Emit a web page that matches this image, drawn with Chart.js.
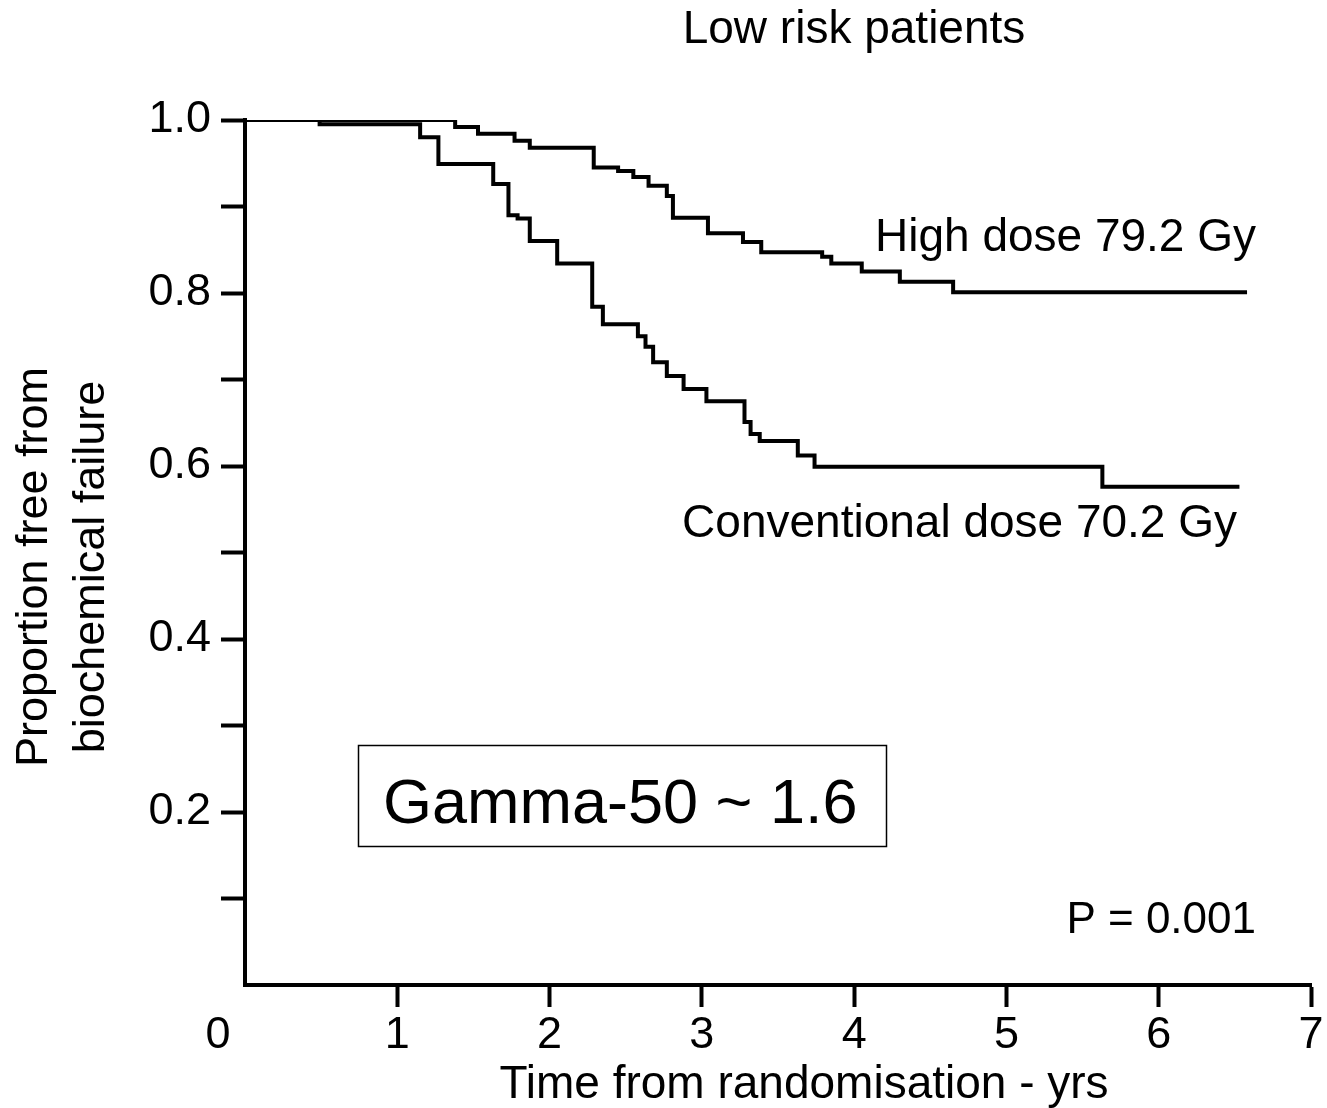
<!DOCTYPE html>
<html>
<head>
<meta charset="utf-8">
<title>Low risk patients</title>
<script src="https://cdn.jsdelivr.net/npm/chart.js@4.4.1/dist/chart.umd.min.js"></script>
<style>
  html, body { margin: 0; padding: 0; background: #fff; }
  canvas { display: block; }
</style>
</head>
<body>
<canvas id="kmChart" width="1327" height="1108"></canvas>
<script>
// Kaplan-Meier steps: time of each drop (years) and the proportion left after it
const highDoseTimes = [0, 1.38, 1.53, 1.77, 1.87, 2.29, 2.45, 2.55, 2.65, 2.77, 2.81, 3.04, 3.27, 3.39, 3.79, 3.85, 4.05, 4.30, 4.65, 6.58];
const highDoseFree  = [1.0, 0.992, 0.984, 0.976, 0.968, 0.945, 0.941, 0.934, 0.924, 0.912, 0.887, 0.869, 0.859, 0.847, 0.842, 0.834, 0.825, 0.813, 0.801, 0.801];

const convDoseTimes = [0, 0.49, 1.15, 1.27, 1.63, 1.73, 1.79, 1.87, 2.05, 2.28, 2.35, 2.58, 2.63, 2.68, 2.77, 2.88, 3.03, 3.28, 3.32, 3.38, 3.63, 3.74, 5.63, 6.53];
const convDoseFree  = [1.0, 0.995, 0.980, 0.949, 0.926, 0.890, 0.886, 0.860, 0.834, 0.784, 0.764, 0.750, 0.738, 0.720, 0.704, 0.689, 0.675, 0.651, 0.637, 0.629, 0.612, 0.599, 0.576, 0.576];

// axis ranges and labelled y values
const xRange = [0, 7];
const yRange = [0, 1];
const yLabelled = [0.2, 0.4, 0.6, 0.8, 1.0];

const FONT = '"Liberation Sans", Arial, Helvetica, sans-serif';
const TICK_LEN = 24;
const X_LABEL_PAD = 2;

Chart.defaults.font.family = FONT;
Chart.defaults.color = '#000';

const toPoints = (ts, vs) => ts.map((t, i) => ({ x: t, y: vs[i] }));

// text that sits on top of the plot: title, curve names, stats box
const annotations = {
  id: 'annotations',
  afterDraw(chart) {
    const { ctx, scales: { x } } = chart;
    ctx.save();
    ctx.fillStyle = '#000';
    ctx.strokeStyle = '#000';
    ctx.font = `46px ${FONT}`;
    ctx.textBaseline = 'alphabetic';

    ctx.textAlign = 'center';
    ctx.fillText('Low risk patients', 854, 43);
    ctx.fillText('Time from randomisation - yrs', 804, 1098);

    ctx.textAlign = 'right';
    ctx.fillText('High dose 79.2 Gy', 1256, 251);
    ctx.fillText('Conventional dose 70.2 Gy', 1237, 537);
    ctx.font = `44px ${FONT}`;
    ctx.fillText('P = 0.001', 1256, 933);

    // origin "0" sits left of the corner
    ctx.font = `45px ${FONT}`;
    ctx.textAlign = 'center';
    ctx.textBaseline = 'middle';
    ctx.fillText('0', x.getPixelForValue(0) - 27, x.top + TICK_LEN - 2 + X_LABEL_PAD + 45 * 1.2 / 2);

    // y axis title, two lines
    ctx.font = `45px ${FONT}`;
    ctx.textAlign = 'center';
    [['Proportion free from', 35], ['biochemical failure', 92]].forEach(([txt, cx]) => {
      ctx.save();
      ctx.translate(cx, 567);
      ctx.rotate(-Math.PI / 2);
      ctx.fillText(txt, 0, 0);
      ctx.restore();
    });

    // gamma box
    ctx.lineWidth = 1.5;
    ctx.strokeRect(358.5, 745.5, 528, 101);
    ctx.textAlign = 'left';
    ctx.textBaseline = 'alphabetic';
    ctx.font = `63px ${FONT}`;
    ctx.fillText('Gamma-50 ~ 1.6', 383, 823);
    ctx.restore();
  }
};

const stepLine = (data) => ({
  data,
  borderColor: '#000',
  borderWidth: 4,
  stepped: true,
  fill: false,
  pointRadius: 0,
  borderJoinStyle: 'miter',
  borderCapStyle: 'butt'
});

const hideAtOrigin = (c) => (c.tick && c.tick.value === 0 ? 'rgba(0,0,0,0)' : '#000');

new Chart(document.getElementById('kmChart'), {
  type: 'line',
  data: {
    datasets: [
      { label: 'High dose 79.2 Gy', ...stepLine(toPoints(highDoseTimes, highDoseFree)) },
      { label: 'Conventional dose 70.2 Gy', ...stepLine(toPoints(convDoseTimes, convDoseFree)) }
    ]
  },
  options: {
    responsive: false,
    animation: false,
    layout: { padding: { top: 120, right: 16, bottom: 0, left: 0 } },
    plugins: { legend: { display: false }, tooltip: { enabled: false } },
    scales: {
      x: {
        type: 'linear',
        min: xRange[0],
        max: xRange[1],
        afterFit: (s) => { s.height = 123; },
        border: { display: true, color: '#000', width: 4 },
        grid: {
          drawOnChartArea: false,
          drawTicks: true,
          tickLength: TICK_LEN - 2,
          tickWidth: 4,
          tickColor: hideAtOrigin
        },
        ticks: {
          stepSize: 1,
          autoSkip: false,
          maxRotation: 0,
          padding: X_LABEL_PAD,
          color: '#000',
          font: { size: 45 },
          callback: (v) => (v === 0 ? '' : String(v))
        }
      },
      y: {
        min: yRange[0],
        max: yRange[1],
        afterFit: (s) => { s.width = 245; },
        border: { display: true, color: '#000', width: 4 },
        grid: {
          drawOnChartArea: false,
          drawTicks: true,
          tickLength: TICK_LEN,
          tickWidth: 4,
          tickColor: hideAtOrigin
        },
        ticks: {
          stepSize: 0.1,
          autoSkip: false,
          padding: 10,
          color: '#000',
          font: { size: 45 },
          callback: (v) => {
            const label = yLabelled.find((l) => Math.abs(l - v) < 1e-6);
            return label === undefined ? '' : label.toFixed(1);
          }
        }
      }
    }
  },
  plugins: [annotations]
});
</script>
</body>
</html>
